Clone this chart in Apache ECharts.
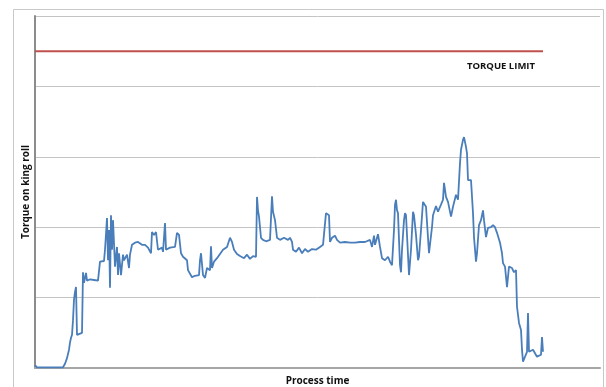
<!DOCTYPE html>
<html>
<head>
<meta charset="utf-8">
<script src="https://cdn.jsdelivr.net/npm/echarts@6/dist/echarts.min.js"></script>
<style>
  html, body { margin: 0; padding: 0; background: #fff; }
  #chart { width: 606px; height: 387px; }
</style>
</head>
<body>
<div id="chart"></div>
<script>
// Process time samples (arbitrary time units from start of run)
const processTime = [
  0, 2, 10, 20, 28, 30, 32, 34, 35, 36,
  37, 38, 39, 40, 41, 42, 44, 47, 48, 49,
  50, 51, 52, 55, 59, 63, 65, 69, 70, 72,
  73, 74, 75, 76, 77, 78, 80, 82, 83, 84,
  86, 88, 89, 92, 94, 95, 97, 100, 103, 107,
  110, 113, 116, 117, 119, 121, 123, 127, 128, 130,
  131, 135, 140, 142, 144, 146, 148, 152, 153, 157,
  160, 162, 164, 165, 166, 168, 170, 172, 175, 176,
  177, 179, 182, 185, 188, 192, 195, 197, 199, 202,
  205, 209, 212, 215, 218, 221, 222, 223, 224, 226,
  228, 231, 235, 237, 238, 240, 242, 245, 249, 253,
  255, 257, 258, 261, 264, 267, 270, 273, 277, 281,
  285, 288, 290, 291, 293, 294, 295, 297, 300, 302,
  305, 310, 315, 320, 325, 330, 335, 337, 339, 340,
  343, 345, 347, 350, 353, 355, 357, 359, 360, 361,
  362, 363, 364, 365, 366, 367, 369, 370, 371, 372,
  374, 376, 378, 379, 381, 383, 384, 386, 388, 391,
  394, 397, 398, 401, 403, 406, 408, 409, 411, 413,
  416, 418, 421, 423, 425, 426, 428, 429, 431, 432,
  433, 436, 438, 439, 441, 442, 444, 446, 448, 449,
  451, 453, 456, 458, 460, 462, 465, 467, 468, 470,
  472, 474, 477, 479, 481, 482, 484, 486, 487, 488,
  490, 492, 493, 494, 496, 498, 500, 502, 504, 506,
  507, 508
];

// Torque on king roll at each sample
const torque = [
  4, 1, 1, 1, 1, 6, 14, 26, 36, 43,
  47, 68, 97, 108, 115, 47, 48, 50, 136, 121,
  122, 135, 124, 126, 125, 124, 151, 152, 168, 213,
  153, 196, 114, 217, 168, 210, 144, 172, 132, 163,
  132, 161, 153, 161, 142, 161, 175, 178, 179, 175,
  175, 171, 163, 193, 189, 193, 168, 171, 165, 206,
  168, 171, 172, 192, 189, 163, 158, 153, 139, 129,
  131, 132, 132, 153, 163, 132, 128, 142, 139, 173,
  142, 151, 156, 162, 168, 172, 185, 179, 168, 162,
  159, 156, 161, 155, 159, 158, 243, 224, 215, 185,
  182, 180, 182, 244, 222, 210, 185, 182, 185, 182,
  185, 179, 168, 165, 171, 163, 169, 165, 169, 168,
  172, 175, 176, 220, 222, 217, 179, 185, 188, 182,
  178, 179, 178, 178, 179, 179, 182, 172, 188, 175,
  190, 172, 156, 153, 158, 151, 146, 196, 232, 239,
  224, 220, 182, 146, 136, 168, 210, 220, 217, 189,
  132, 168, 222, 217, 189, 153, 158, 196, 236, 229,
  163, 200, 217, 230, 222, 232, 239, 263, 243, 236,
  215, 229, 246, 239, 291, 310, 324, 328, 314, 305,
  267, 267, 220, 186, 151, 163, 203, 210, 224, 210,
  186, 199, 200, 203, 200, 192, 178, 163, 149, 144,
  115, 144, 142, 136, 139, 87, 64, 54, 26, 9,
  16, 23, 78, 23, 23, 26, 26, 16, 14, 19,
  44, 23
];

// Torque limit reference level and its extent along the time axis
const limitTime = [0, 508];
const limitValue = [450, 450];

const chart = echarts.init(document.getElementById('chart'));

chart.setOption({
  animation: false,
  backgroundColor: '#ffffff',
  grid: {
    left: 35, right: 6, top: 16, bottom: 19,
    containLabel: false,
    outerBoundsMode: 'none'
  },
  xAxis: {
    type: 'value',
    min: 0,
    max: 565,
    name: 'Process time',
    nameLocation: 'middle',
    nameGap: 8,
    nameTextStyle: { fontFamily: 'Open Sans', fontWeight: 'bold', fontSize: 10, color: '#111' },
    axisLine: { show: true, onZero: false, lineStyle: { color: '#a6a6a6', width: 2 } },
    axisTick: { show: false },
    axisLabel: { show: false },
    splitLine: { show: false }
  },
  yAxis: {
    type: 'value',
    min: 0,
    max: 500,
    interval: 100,
    name: 'Torque on king roll',
    nameLocation: 'middle',
    nameGap: 4,
    nameRotate: 90,
    nameTextStyle: { fontFamily: 'Open Sans', fontWeight: 'bold', fontSize: 10, color: '#111' },
    axisLine: { show: true, lineStyle: { color: '#8c8c8c', width: 2 } },
    axisTick: { show: false },
    axisLabel: { show: false },
    splitLine: { show: true, lineStyle: { color: '#c4c4c4', width: 1 } }
  },
  graphic: [
    {
      type: 'rect',
      silent: true,
      shape: { x: 13.5, y: 9.5, width: 590, height: 400 },
      style: { fill: 'none', stroke: '#c8c8c8', lineWidth: 1 }
    },
    {
      type: 'text',
      left: 467,
      top: 61,
      style: {
        text: 'TORQUE LIMIT',
        fontFamily: 'Open Sans',
        fontWeight: 'bold',
        fontSize: 9.5,
        fill: '#111'
      }
    }
  ],
  series: [
    {
      name: 'Torque limit',
      type: 'line',
      data: limitTime.map((t, i) => [t, limitValue[i]]),
      symbol: 'none',
      lineStyle: { color: '#c0504d', width: 2 }
    },
    {
      name: 'Torque',
      type: 'line',
      data: processTime.map((t, i) => [t, torque[i]]),
      symbol: 'none',
      lineStyle: { color: '#4a7ebb', width: 1.8 }
    }
  ]
});
</script>
</body>
</html>
